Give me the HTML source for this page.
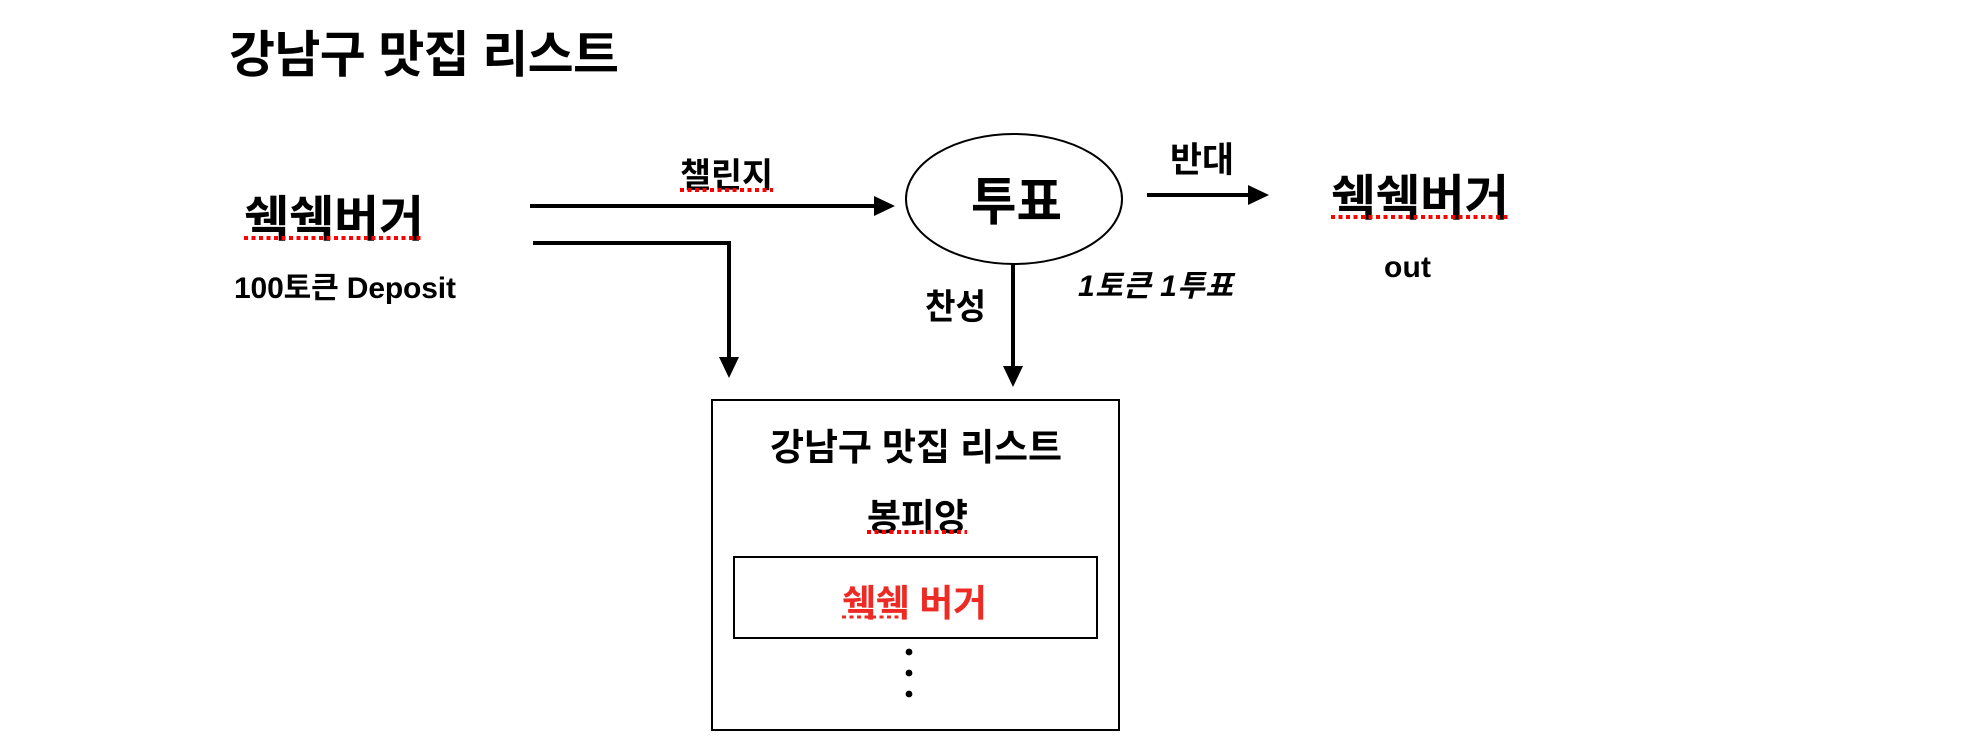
<!DOCTYPE html>
<html lang="ko"><head><meta charset="utf-8"><title>강남구 맛집 리스트</title>
<style>
html,body{margin:0;padding:0;background:#fff;width:1984px;height:750px;overflow:hidden}
svg{display:block}
text{font-family:"Liberation Sans","Noto Sans CJK KR",sans-serif;font-weight:700;fill:#000}
.r{stroke:#f00;stroke-width:4;stroke-dasharray:4 3.5;fill:none}
.l{stroke:#000;stroke-width:4;fill:none}
</style></head><body>
<svg width="1984" height="750" viewBox="0 0 1984 750" xmlns="http://www.w3.org/2000/svg">
<text x="229" y="72" font-size="50" textLength="390">강남구 맛집 리스트</text>

<text x="244" y="236" font-size="49" textLength="180" lengthAdjust="spacingAndGlyphs">쉑쉑버거</text>
<line class="r" x1="244" y1="238" x2="424" y2="238"/>
<text x="234" y="298" font-size="30" textLength="222">100토큰 Deposit</text>

<text x="680" y="187" font-size="34" textLength="93" lengthAdjust="spacingAndGlyphs">챌린지</text>
<line class="r" x1="680" y1="190" x2="773" y2="190"/>

<line class="l" x1="530" y1="206" x2="876" y2="206"/>
<polygon points="874,196 895,206 874,216"/>
<polyline class="l" points="533,243 729,243 729,360"/>
<polygon points="719,357 739,357 729,378"/>

<ellipse cx="1014" cy="199" rx="108" ry="65" fill="none" stroke="#000" stroke-width="2"/>
<text x="971" y="220" font-size="52" textLength="91" lengthAdjust="spacingAndGlyphs">투표</text>

<line class="l" x1="1147" y1="195" x2="1252" y2="195"/>
<polygon points="1248,185 1269,195 1248,205"/>
<text x="1170" y="172" font-size="35" textLength="64" lengthAdjust="spacingAndGlyphs">반대</text>

<text x="1331" y="215" font-size="49" textLength="178" lengthAdjust="spacingAndGlyphs">쉑쉑버거</text>
<line class="r" x1="1331" y1="217" x2="1509" y2="217"/>
<text x="1384" y="277" font-size="30" textLength="47">out</text>

<line class="l" x1="1013" y1="264" x2="1013" y2="370"/>
<polygon points="1003,366 1023,366 1013,387"/>
<text x="925" y="319" font-size="35" textLength="61" lengthAdjust="spacingAndGlyphs">찬성</text>
<text x="1078" y="296" font-size="30" font-style="italic" textLength="155">1토큰 1투표</text>

<rect x="712" y="400" width="407" height="330" fill="none" stroke="#000" stroke-width="2"/>
<text x="770" y="460" font-size="37" textLength="292">강남구 맛집 리스트</text>
<text x="867" y="530" font-size="37" textLength="101">봉피양</text>
<line class="r" x1="867" y1="532" x2="967" y2="532"/>
<rect x="734" y="557" width="363" height="81" fill="none" stroke="#000" stroke-width="2"/>
<text x="842" y="616" font-size="37" textLength="145" style="fill:#ee2a24">쉑쉑 버거</text>
<line class="r" x1="842" y1="617" x2="908" y2="617" style="stroke-width:3;stroke:#ee2a24"/>
<circle cx="909" cy="652" r="3.4"/>
<circle cx="909" cy="673" r="3.4"/>
<circle cx="909" cy="694" r="3.4"/>
</svg>
</body></html>
